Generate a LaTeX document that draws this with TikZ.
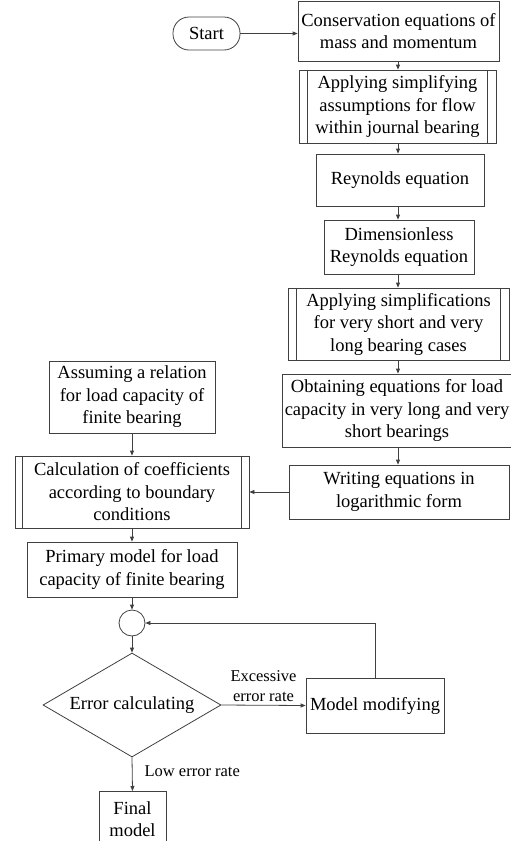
\documentclass[tikz,border=0pt]{standalone}
\usepackage{fontspec}
\setmainfont{Liberation Serif}
\usetikzlibrary{arrows.meta,shapes.geometric}
\begin{document}
\begin{tikzpicture}[x=1pt,y=-1pt,
  line/.style={draw=black!75,line width=0.8pt},
  arr/.style={line,-{Triangle[length=5pt,width=4pt]}},
  box/.style={line,rectangle,inner sep=0pt,align=center,font=\fontsize{18.5}{22.5}\selectfont},
  lbl/.style={inner sep=0pt,align=center,font=\fontsize{16.5}{20}\selectfont}]
\useasboundingbox (0,0) rectangle (511,841);
\node[box,rounded corners=16pt,minimum width=67pt,minimum height=33pt] (start) at (206.5,33.5) {Start};
\node[box,minimum width=201pt,minimum height=60pt] (b1) at (398.5,31) {Conservation equations of\\mass and momentum};
\node[box,minimum width=197pt,minimum height=73pt] (b2) at (397.5,106.5) {Applying simplifying\\assumptions for flow\\within journal bearing};
\node[box,minimum width=168pt,minimum height=52pt] (b3) at (400,180) {Reynolds equation};
\node[box,minimum width=150pt,minimum height=54pt] (b4) at (399,247) {Dimensionless\\Reynolds equation};
\node[box,minimum width=221pt,minimum height=72pt] (b5) at (398.5,324) {Applying simplifications\\for very short and very\\long bearing cases};
\node[box,minimum width=230pt,minimum height=73pt] (b6) at (397,410.5) {Obtaining equations for load\\capacity in very long and very\\short bearings};
\node[box,minimum width=220pt,minimum height=54pt] (b7) at (399,492) {Writing equations in\\logarithmic form};
\node[box,minimum width=166pt,minimum height=72pt] (a1) at (132,397) {Assuming a relation\\for load capacity of\\finite bearing};
\node[box,minimum width=234pt,minimum height=72pt] (b8) at (132,492) {Calculation of coefficients\\according to boundary\\conditions};
\node[box,minimum width=210pt,minimum height=55pt] (b9) at (132,569.5) {Primary model for load\\capacity of finite bearing};
\node[line,circle,minimum size=26pt,inner sep=0pt] (c) at (132,623) {};
\node[box,diamond,aspect=1.71,minimum width=178pt,minimum height=104pt] (d) at (132,705) {Error calculating};
\node[box,minimum width=138pt,minimum height=55pt] (m) at (375,705.5) {Model modifying};
\node[box,minimum width=67pt,minimum height=56pt,anchor=north] (f) at (132.5,791) {Final\\model};
\coordinate (colx) at (398,0);
% double side lines
\foreach \n/\s in {b2/9,b5/9,b8/8}{
  \draw[line] ([xshift=\s pt]\n.north west) -- ([xshift=\s pt]\n.south west);
  \draw[line] ([xshift=-\s pt]\n.north east) -- ([xshift=-\s pt]\n.south east);
}
% connectors
\draw[arr] (start.east) -- (start.east -| b1.west);
\draw[arr] (b1.south -| colx) -- (b2.north -| colx);
\draw[arr] (b2.south -| colx) -- (b3.north -| colx);
\draw[arr] (b3.south -| colx) -- (b4.north -| colx);
\draw[arr] (b4.south -| colx) -- (b5.north -| colx);
\draw[arr] (b5.south -| colx) -- (b6.north -| colx);
\draw[arr] (b6.south -| colx) -- (b7.north -| colx);
\draw[arr] (b7) -- (b8);
\draw[arr] (a1) -- (b8);
\draw[arr] (b8) -- (b9);
\draw[arr] (b9) -- (c);
\draw[arr] (c) -- (d);
\draw[arr] (d.east) -- node[lbl,above=3pt] {Excessive\\error rate} (m.west);
\draw[arr] (m.north) |- (c.east);
\draw[arr] (d.south) -- node[lbl,right=12pt,pos=0.4] {Low error rate} (f.north);
\end{tikzpicture}
\end{document}
